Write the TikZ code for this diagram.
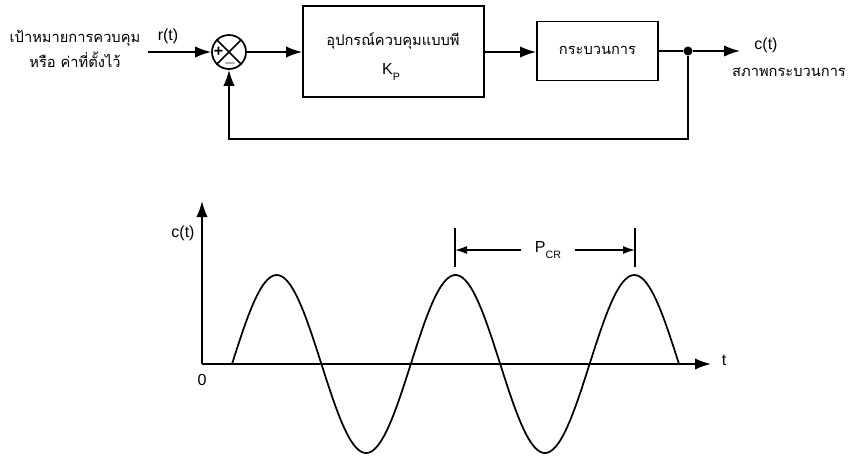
\documentclass[tikz,border=0pt]{standalone}
\usepackage{fontspec}
\setmainfont{Liberation Sans}
\newfontfamily\thai[Script=Thai]{Loma}
\usetikzlibrary{arrows.meta,calc,positioning}
\tikzset{
  bloque/.style={draw,line width=1.3pt,inner sep=0pt},
  sumador/.style={draw,circle,line width=1.3pt,minimum size=25.5pt,inner sep=0pt},
  flecha/.style={-{Latex[length=12pt,width=8.5pt]},line width=1.3pt},
  cota/.style={-{Latex[length=9pt,width=6pt]},line width=1.1pt},
  linea/.style={line width=1.3pt},
  pt/.style={circle,fill=black,inner sep=2.4pt},
  txt/.style={font=\fontsize{12}{14}\selectfont,inner sep=0pt},
  txtth/.style={font=\fontsize{11}{19}\selectfont\thai,inner sep=0pt,align=center}
}
\begin{document}
\begin{tikzpicture}[x=0.75pt,y=-0.75pt]
\useasboundingbox (0,0) rectangle (849,455);
% lazo de control
\node[txtth] (meta) at (75,49) {เป้าหมายการควบคุม\\หรือ ค่าที่ตั้งไว้};
\coordinate (in) at (148,52);
\node[txt] (r) at (168,36) {r(t)};
\node[sumador] (S) at (229,52) {};
\draw[linea] (S.north west) -- (S.south east) (S.north east) -- (S.south west);
\node[txt,font=\fontsize{12}{12}\selectfont\bfseries] (mas) at (218.5,52) {+};
\node[txt,font=\fontsize{12}{12}\selectfont\bfseries] (menos) at (230,63) {$-$};
\node[bloque,minimum width=135.75pt,minimum height=68.25pt] (C) at (393.5,51.5) {};
\node[txtth] (Ct) at (393,41) {อุปกรณ์ควบคุมแบบพี};
\node[txt] (Kp) at (391,72) {K\raisebox{-0.7ex}{\footnotesize P}};
\node[bloque,minimum width=90.75pt,minimum height=44.25pt] (P) at (597.5,51) {};
\node[txtth] (Pt) at (597.5,50) {กระบวนการ};
\node[pt] (J) at (688,51) {};
\coordinate (out) at (740,51);
\node[txt] (c) at (766,45) {c(t)};
\node[txtth] (estado) at (789,72) {สภาพกระบวนการ};
\coordinate (fb) at (0,139);
\draw[flecha] (in) -- (S.west);
\draw[flecha] (S.east) -- (C.west |- S.east);
\draw[flecha] (C.east |- S.east) -- (P.west |- S.east);
\draw[linea] (P.east |- J) -- (J);
\draw[flecha] (J) -- (out);
\draw[flecha] (J) -- (J |- fb) -- (S |- fb) -- (S.south);
% respuesta oscilante
\coordinate (O) at (202,364);
\coordinate (ytip) at (202,201);
\coordinate (xtip) at (711,364);
\draw[flecha] (O) -- (ytip);
\draw[flecha] (O) -- (xtip);
\node[txt] (cy) at (183,233) {c(t)};
\node[txt] (cero) at (202,380) {0};
\node[txt] (t) at (724,360) {t};
\draw[linea] plot[domain=232:679,samples=200,smooth] (\x,{364-89*sin((\x-232)/89.4*180)});
\coordinate (m1a) at (455,228);
\coordinate (m1b) at (455,267);
\coordinate (m2a) at (635,228);
\coordinate (m2b) at (635,267);
\draw[linea] (m1a) -- (m1b) (m2a) -- (m2b);
\node[txt,inner xsep=10pt] (pcr) at (548,250) {P\raisebox{-0.7ex}{\footnotesize CR}};
\draw[cota] (pcr.west) -- (m1a |- pcr.west);
\draw[cota] (pcr.east) -- (m2a |- pcr.east);
\end{tikzpicture}
\end{document}
